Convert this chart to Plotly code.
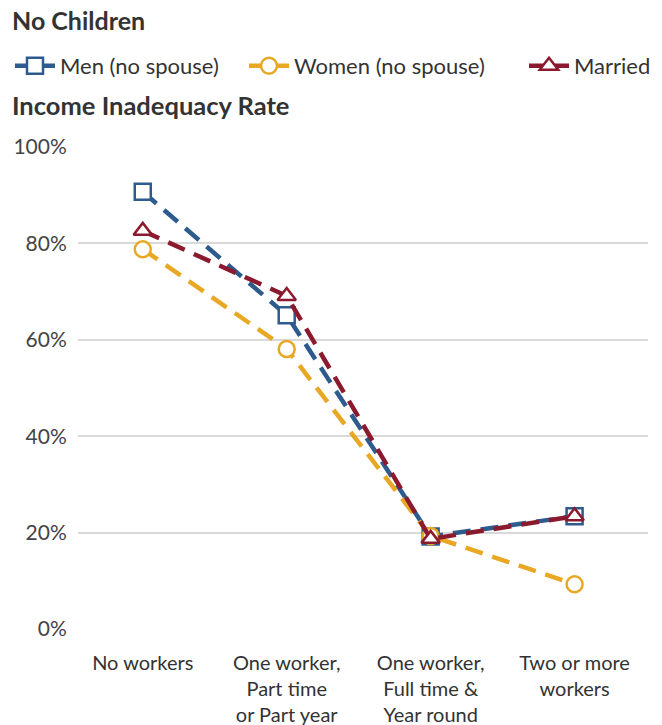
import plotly.graph_objects as go

categories = ["No workers", "One worker,<br>Part time<br>or Part year",
              "One worker,<br>Full time &<br>Year round", "Two or more<br>workers"]
men = [90.7, 65.1, 19.2, 23.4]
women = [78.8, 58.1, 19.3, 9.3]
married = [82.6, 69.1, 18.7, 23.4]

y_ticks = [0, 20, 40, 60, 80, 100]
y_tick_text = ["0%", "20%", "40%", "60%", "80%", "100%"]

FONT = "Lato, Source Sans Pro, Roboto, sans-serif"
TEXT = "#333333"
BLUE = "#2d5b8e"
GOLD = "#e8a823"
MAROON = "#8c1a2f"

W, H = 662, 725
ML, MR, MT, MB = 78, 14, 147, 96
PW, PH = W - ML - MR, H - MT - MB


def px_x(px):
    return (px - ML) / PW


def px_y(py):
    return (H - MB - py) / PH


series = [
    ("Men (no spouse)", men, BLUE, "square", "legend", 10),
    ("Women (no spouse)", women, GOLD, "circle", "legend2", 244),
    ("Married", married, MAROON, "triangle-up", "legend3", 524),
]

fig = go.Figure()

# dashed data lines
for name, vals, color, sym, leg, lx in series:
    fig.add_trace(go.Scatter(
        x=categories, y=vals, mode="lines+markers", name=name,
        showlegend=False, cliponaxis=False,
        line=dict(color=color, width=4.5, dash="18px,10px"),
        marker=dict(symbol=sym, size=16, color="white",
                    line=dict(color=color, width=2.5)),
    ))

# legend keys with solid strokes, one legend box per series
for name, vals, color, sym, leg, lx in series:
    fig.add_trace(go.Scatter(
        x=[None], y=[None], mode="lines+markers", name=name, legend=leg,
        line=dict(color=color, width=4.5),
        marker=dict(symbol=sym, size=16, color="white",
                    line=dict(color=color, width=2.5)),
    ))

legend_common = dict(orientation="h", xref="container", yref="container",
                     xanchor="left", yanchor="middle",
                     font=dict(size=22, color=TEXT), itemwidth=40,
                     bgcolor="rgba(0,0,0,0)")

layout_legends = {}
for name, vals, color, sym, leg, lx in series:
    layout_legends[leg] = dict(legend_common, x=lx / W, y=1 - 66 / H)

fig.update_layout(
    width=W, height=H,
    margin=dict(l=ML, r=MR, t=MT, b=MB),
    paper_bgcolor="white", plot_bgcolor="white",
    font=dict(family=FONT, size=20, color=TEXT),
    showlegend=True,
    **layout_legends,
    xaxis=dict(type="category", range=[-0.45, 3.51], automargin=False,
               showgrid=False, zeroline=False, showline=False,
               tickfont=dict(size=20, color=TEXT), ticks="outside",
               ticklen=16, tickcolor="rgba(0,0,0,0)"),
    yaxis=dict(range=[0, 100], tickvals=y_ticks, ticktext=y_tick_text,
               automargin=False,
               showgrid=True, gridcolor="#d9d9d9", gridwidth=1.5, zeroline=False,
               showline=False, tickfont=dict(size=21, color="#444444"),
               ticks="outside", ticklen=6, tickcolor="rgba(0,0,0,0)"),
    annotations=[
        dict(text="<b>No Children</b>", xref="paper", yref="paper",
             x=px_x(10), y=px_y(20), showarrow=False,
             xanchor="left", yanchor="middle", font=dict(size=25, color=TEXT)),
        dict(text="<b>Income Inadequacy Rate</b>", xref="paper", yref="paper",
             x=px_x(10), y=px_y(105), showarrow=False,
             xanchor="left", yanchor="middle", font=dict(size=25.5, color=TEXT)),
    ],
)

fig.write_html("out.html")
